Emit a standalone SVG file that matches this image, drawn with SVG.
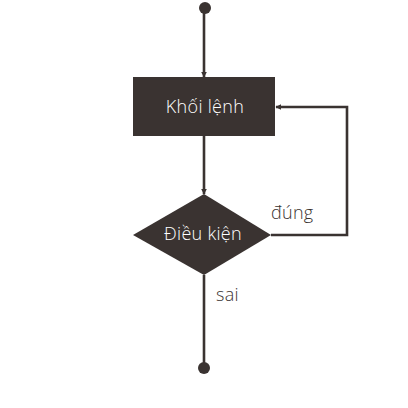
<svg xmlns="http://www.w3.org/2000/svg" width="408" height="408" viewBox="0 0 408 408">
<defs>
<style>
.edge{fill:none;stroke:#3a3331;stroke-width:2.6}
.shape{fill:#3a3331}
.lbl{font-family:"Open Sans","Liberation Sans",sans-serif;font-size:18px;font-weight:300;letter-spacing:0.3px;fill:#ffffff;text-anchor:middle}
.elbl{font-family:"Open Sans","Liberation Sans",sans-serif;font-size:18px;font-weight:300;letter-spacing:0.3px;fill:#3a3331}
</style>
<marker id="arr" viewBox="0 0 10 10" refX="9" refY="5" markerWidth="6" markerHeight="6" markerUnits="userSpaceOnUse" orient="auto">
<path d="M0,0 L10,5 L0,10 z" fill="#3a3331"/>
</marker>
</defs>
<rect width="408" height="408" fill="#ffffff"/>
<g id="connectors">
<line class="edge" x1="204" y1="9" x2="204" y2="77" marker-end="url(#arr)"/>
<line class="edge" x1="204" y1="136" x2="204" y2="194" marker-end="url(#arr)"/>
<polyline class="edge" points="271,235 347,235 347,107 276,107" marker-end="url(#arr)"/>
<line class="edge" x1="204" y1="275" x2="204" y2="367"/>
<text class="elbl" x="271" y="219">đúng</text>
<text class="elbl" x="216" y="301">sai</text>
</g>
<g id="start"><circle class="shape" cx="205" cy="8" r="6"/></g>
<g id="block"><rect class="shape" x="133" y="77" width="142" height="59"/><text class="lbl" x="205" y="113">Khối lệnh</text></g>
<g id="cond"><polygon class="shape" points="204,194 271,235 204,275 133,235"/><text class="lbl" x="203" y="240">Điều kiện</text></g>
<g id="end"><circle class="shape" cx="204" cy="368" r="6"/></g>
</svg>
